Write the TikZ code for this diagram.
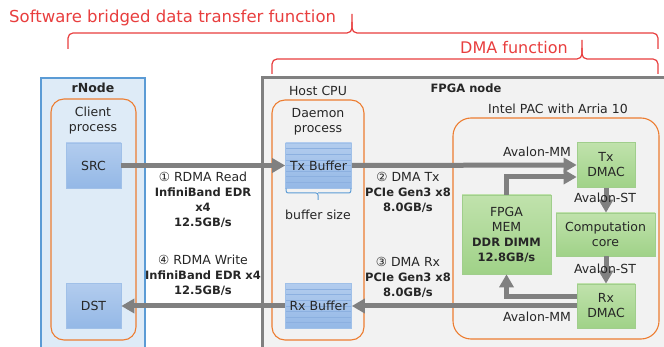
\documentclass[tikz,border=0pt]{standalone}
\usepackage{fontspec}
\setmainfont{DejaVu Sans}
\usetikzlibrary{arrows.meta,calc}

\definecolor{bracered}{RGB}{232,62,62}
\definecolor{txt}{RGB}{38,38,38}
\definecolor{rnodeline}{RGB}{91,155,213}
\definecolor{rnodefill}{RGB}{222,235,247}
\definecolor{fpgaline}{RGB}{128,128,128}
\definecolor{fpgafill}{RGB}{242,242,242}
\definecolor{procline}{RGB}{237,125,49}
\definecolor{bluetop}{RGB}{178,204,238}
\definecolor{bluebot}{RGB}{148,184,230}
\definecolor{blueedge}{RGB}{160,192,232}
\definecolor{stripe}{RGB}{140,176,224}
\definecolor{greentop}{RGB}{192,226,172}
\definecolor{greenbot}{RGB}{160,210,136}
\definecolor{greenedge}{RGB}{160,206,140}
\definecolor{flow}{RGB}{128,128,128}

\newcommand{\boldlbl}[1]{{\fontsize{11.5}{15}\selectfont\bfseries #1}}

\tikzset{
  outer/.style={line width=2.6pt},
  proc/.style={draw=procline, line width=1.1pt, rounded corners=13pt},
  bluebox/.style={draw=blueedge, line width=0.6pt, top color=bluetop, bottom color=bluebot,
    text=txt, font=\fontsize{12.5}{15}\selectfont, minimum width=55pt, minimum height=45pt, inner sep=0pt},
  bufbox/.style={bluebox, minimum width=66pt,
    path picture={\foreach \i in {1,...,7}
      \draw[stripe, line width=0.5pt]
        ([yshift=-\i*5.6pt]path picture bounding box.north west) --
        ([yshift=-\i*5.6pt]path picture bounding box.north east);}},
  greenbox/.style={draw=greenedge, line width=0.6pt, top color=greentop, bottom color=greenbot,
    text=txt, align=center, font=\fontsize{12.5}{15}\selectfont, inner sep=0pt},
  lbl/.style={text=txt, align=center, font=\fontsize{12.5}{15}\selectfont, inner sep=0pt},
  flowarrow/.style={draw=flow, line width=5pt, -{Triangle[length=13pt,width=14pt]}},
  bracepath/.style={draw=bracered, line width=1.2pt, rounded corners=5pt},
  title/.style={text=bracered, font=\fontsize{16.5}{19}\selectfont, inner sep=0pt}
}

\begin{document}
\begin{tikzpicture}[x=1pt,y=-1pt]
\useasboundingbox (0,0) rectangle (664,347);
\clip (0,0) rectangle (664,347);

% headings and their braces
\node[title, anchor=west] (swtitle) at (9,18) {Software bridged data transfer function};
\node[title, font=\fontsize{16}{19}\selectfont] (dmatitle) at (514,48) {DMA function};
\draw[bracepath] (68,49) -- (68,33) -- (352,33) -- (352,14);
\draw[bracepath] (352,22) -- (352,33) -- (658,33) -- (658,49);
\draw[bracepath] (272,74) -- (272,59) -- (582,59) -- (582,40);
\draw[bracepath] (582,48) -- (582,59) -- (658,59) -- (658,74);

% rNode
\draw[outer, draw=rnodeline, fill=rnodefill] (41,360) -- (41,78) -- (145,78) -- (145,360);
\node[text=txt, font=\fontsize{12.5}{14}\selectfont\bfseries] (rnode) at (93,88) {rNode};
\draw[proc] (51,99) rectangle (136,340);
\node[lbl] (client) at (93,121) {Client\\process};
\node[bluebox] (src) at (93.5,165.5) {SRC};
\node[bluebox] (dst) at (93.5,306) {DST};

% FPGA node
\draw[outer, line width=3pt, draw=fpgaline, fill=fpgafill] (262,360) -- (262,78) -- (680,78) -- (680,360);
\node[text=txt, font=\fontsize{11.5}{14}\selectfont\bfseries] (fpganode) at (466,88) {FPGA node};
\node[lbl] (hostcpu) at (318,91) {Host CPU};
\draw[proc] (272,100) rectangle (364,340);
\node[lbl] (daemon) at (318,121.5) {Daemon\\process};
\node[bufbox] (txb) at (318.5,165.5) {Tx Buffer};
\node[bufbox] (rxb) at (318.5,306) {Rx Buffer};
\draw[draw=rnodeline, line width=1pt, rounded corners=2pt]
  (txb.south west) ++(1,0) |- (318,193) -- (318,200);
\draw[draw=rnodeline, line width=1pt, rounded corners=2pt]
  (txb.south east) ++(-1,0) |- (318,193);
\node[lbl] (bufsize) at (318,215) {buffer size};

% Intel PAC
\node[lbl] (pac) at (558,109) {Intel PAC with Arria 10};
\draw[proc, rounded corners=18pt] (453,118) rectangle (659,339);
\node[greenbox, minimum width=58pt, minimum height=45pt] (txd) at (606,165) {Tx\\DMAC};
\node[greenbox, minimum width=58pt, minimum height=44pt] (rxd) at (606,306) {Rx\\DMAC};
\node[greenbox, minimum width=99pt, minimum height=43pt] (comp) at (605.5,234.5) {Computation\\core};
\node[greenbox, minimum width=89pt, minimum height=79pt] (mem) at (506.5,234.5)
  {FPGA\\MEM\\\boldlbl{DDR DIMM}\\\boldlbl{12.8GB/s}};

% data flow
\draw[flowarrow] (src.east) -- (txb.west);
\draw[flowarrow] (txb.east) -- (txd.west);
\draw[flowarrow] (mem.north) |- ($(txd.west)+(0,12)$);
\draw[flowarrow] (txd.south) -- (txd.south |- comp.north);
\draw[flowarrow] (comp.south -| rxd.north) -- (rxd.north);
\draw[flowarrow] ($(rxd.west)+(0,-9)$) -| (mem.south);
\draw[flowarrow] (rxd.west) -- (rxb.east);
\draw[flowarrow] (rxb.west) -- (dst.east);

% link labels
\node[lbl] (rdmard) at (203,199.5)
  {① RDMA Read\\\boldlbl{InfiniBand EDR}\\\boldlbl{x4}\\\boldlbl{12.5GB/s}};
\node[lbl] (rdmawr) at (203,275.5)
  {④ RDMA Write\\\boldlbl{InfiniBand EDR x4}\\\boldlbl{12.5GB/s}};
\node[lbl] (dmatx) at (408,192)
  {② DMA Tx\\\boldlbl{PCIe Gen3 x8}\\\boldlbl{8.0GB/s}};
\node[lbl] (dmarx) at (408,277)
  {③ DMA Rx\\\boldlbl{PCIe Gen3 x8}\\\boldlbl{8.0GB/s}};
\node[lbl] (mmtop) at (537,152) {Avalon-MM};
\node[lbl] (mmbot) at (537,317) {Avalon-MM};
\node[lbl] (sttop) at (605,198) {Avalon-ST};
\node[lbl] (stbot) at (605,269) {Avalon-ST};
\end{tikzpicture}
\end{document}
